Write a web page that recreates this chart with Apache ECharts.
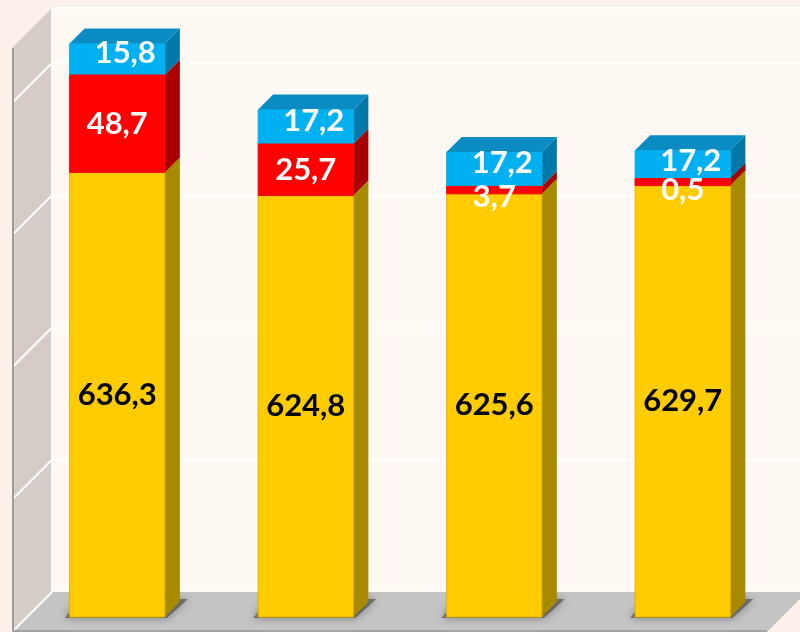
<!DOCTYPE html>
<html>
<head>
<meta charset="utf-8">
<title>Stacked 3D bars</title>
<script src="https://cdn.jsdelivr.net/npm/echarts@6/dist/echarts.min.js"></script>
<style>
  html, body { margin: 0; padding: 0; background: #fcf1ea; }
  #chart { width: 800px; height: 632px; }
</style>
</head>
<body>
<div id="chart"></div>
<script>
const categories = ['1', '2', '3', '4'];
const baseValues = [636.3, 624.8, 625.6, 629.7];
const midValues = [48.7, 25.7, 3.7, 0.5];
const topValues = [15.8, 17.2, 17.2, 17.2];
const wallTicks = [0, 1, 2, 3, 4];

const DEPTH = 15;       // how far the bar sides recede
const WALL_DEPTH = 40;  // depth of floor / side wall
const FONT = 'bold 31px Lato, "Open Sans", sans-serif';

function fmt(v) {
  return v.toFixed(1).replace('.', ',');
}

// [category index, stack start, value]
function stackData(values, below) {
  return values.map((v, i) => [i, below.reduce((s, arr) => s + arr[i], 0), v]);
}

function boxRenderer(colors, opts) {
  return function (params, api) {
    const idx = api.value(0);
    const start = api.value(1);
    const val = api.value(2);
    const cs = params.coordSys;
    const bottomY = cs.y + cs.height;
    const p0 = api.coord([idx, start]);
    const p1 = api.coord([idx, start + val]);
    const w = api.size([1, 0])[0] * 0.505;
    const x = p0[0] - w / 2;
    const y0 = Math.min(p0[1], bottomY);
    let y1 = p1[1];
    // like barMinHeight: keep thin segments visible
    if (opts.minHeight && y0 - y1 < opts.minHeight) y1 = y0 - opts.minHeight;
    const d = DEPTH;
    const children = [];

    if (opts.shadow) {
      children.push({
        type: 'polygon',
        shape: { points: [[x - 5, y0 + 1], [x + w + 2, y0 + 1], [x + w + d + 8, y0 - d - 3], [x + d - 5, y0 - d - 3]] },
        style: { fill: 'rgba(70,70,70,0.6)', shadowBlur: 8, shadowColor: 'rgba(0,0,0,0.6)' }
      });
    }
    children.push({
      type: 'polygon',
      shape: { points: [[x + w, y1], [x + w + d, y1 - d], [x + w + d, y0 - d], [x + w, y0]] },
      style: { fill: colors.side }
    });
    children.push({
      type: 'rect',
      shape: { x: x, y: y1, width: w, height: y0 - y1 },
      style: { fill: colors.front, stroke: colors.edge, lineWidth: 1 }
    });
    if (opts.top) {
      children.push({
        type: 'polygon',
        shape: { points: [[x, y1], [x + d, y1 - d], [x + w + d, y1 - d], [x + w, y1]] },
        style: { fill: colors.top }
      });
    }

    let lx = x + w / 2;
    let ly = (y0 + y1) / 2;
    if (opts.label === 'mid') ly = Math.max(ly, y1 + 11);
    if (opts.label === 'top') { lx += 8; ly -= 6; }
    const white = opts.label !== 'base';
    children.push({
      type: 'text',
      z2: 20,
      style: {
        text: fmt(val),
        x: lx,
        y: ly,
        align: 'center',
        verticalAlign: 'middle',
        font: FONT,
        fill: white ? '#ffffff' : '#000000',
        shadowColor: white ? 'rgba(0,0,0,0.65)' : 'rgba(0,0,0,0)',
        shadowBlur: white ? 3 : 0,
        shadowOffsetX: white ? 1 : 0,
        shadowOffsetY: white ? 2 : 0
      }
    });
    return { type: 'group', children: children };
  };
}

function wallRenderer(params, api) {
  const cs = params.coordSys;
  const D = WALL_DEPTH;
  const p = api.coord([0, api.value(0)]);
  const children = [{
    type: 'line', z2: 10,
    shape: { x1: p[0], y1: p[1], x2: p[0] - D, y2: p[1] + D },
    style: { stroke: '#ffffff', lineWidth: 2 }
  }];
  if (params.dataIndex === 0) {
    const left = cs.x, top = cs.y, bottom = cs.y + cs.height, right = cs.x + cs.width + 7;
    children.push({
      type: 'polygon', z2: 1,
      shape: { points: [[left, top], [left, bottom], [left - D, bottom + D], [left - D, top + D]] },
      style: { fill: '#d5ccc8' }
    });
    children.push({
      type: 'polygon', z2: 1,
      shape: { points: [[left, bottom], [right, bottom], [right - D, bottom + D], [left - D, bottom + D]] },
      style: { fill: '#c4c4c4' }
    });
    children.push({
      type: 'line', z2: 10,
      shape: { x1: left, y1: top, x2: left, y2: bottom },
      style: { stroke: '#ffffff', lineWidth: 2 }
    });
    children.push({
      type: 'line', z2: 11,
      shape: { x1: left - D + 1, y1: top + D, x2: left - D + 1, y2: bottom + D },
      style: { stroke: '#a09b99', lineWidth: 2 }
    });
    children.push({
      type: 'line', z2: 11,
      shape: { x1: left - D, y1: bottom + D - 1, x2: right - D, y2: bottom + D - 1 },
      style: { stroke: '#a3a3a3', lineWidth: 2 }
    });
  }
  return { type: 'group', children: children };
}

const chart = echarts.init(document.getElementById('chart'));

const option = {
  backgroundColor: '#fcf1ea',
  animation: false,
  grid: [
    { left: 23, right: 23, top: 17, bottom: 15 },
    { left: 52, right: 0, top: 8, bottom: 40, show: true, backgroundColor: '#fff8f3', borderWidth: 0 }
  ],
  xAxis: [
    { type: 'category', data: categories, gridIndex: 0, show: false },
    { type: 'value', min: 0, max: 1, gridIndex: 1, show: false }
  ],
  yAxis: [
    { type: 'value', min: 414, max: 714, gridIndex: 0, show: false },
    {
      type: 'value', min: 0, max: 584 / 132.25, interval: 1, gridIndex: 1,
      axisLine: { show: false }, axisTick: { show: false }, axisLabel: { show: false },
      splitLine: { show: true, lineStyle: { color: '#ffffff', width: 2 } }
    }
  ],
  series: [
    {
      type: 'custom', xAxisIndex: 1, yAxisIndex: 1, z: 1, silent: true,
      data: wallTicks,
      renderItem: wallRenderer
    },
    {
      type: 'custom', name: 'base', silent: true, z: 2,
      data: stackData(baseValues, []),
      renderItem: boxRenderer({ front: '#ffcc00', side: '#a88a00', edge: '#e3b400' }, { shadow: true, label: 'base' })
    },
    {
      type: 'custom', name: 'mid', silent: true, z: 4,
      data: stackData(midValues, [baseValues]),
      renderItem: boxRenderer({ front: '#ff0000', side: '#a80000', edge: '#ff0000' }, { label: 'mid', minHeight: 7 })
    },
    {
      type: 'custom', name: 'top', silent: true, z: 3,
      data: stackData(topValues, [baseValues, midValues]),
      renderItem: boxRenderer({ front: '#00b0f0', side: '#0079a8', top: '#0a8cc2', edge: '#00b0f0' }, { top: true, label: 'top' })
    }
  ]
};

chart.setOption(option);
</script>
</body>
</html>
